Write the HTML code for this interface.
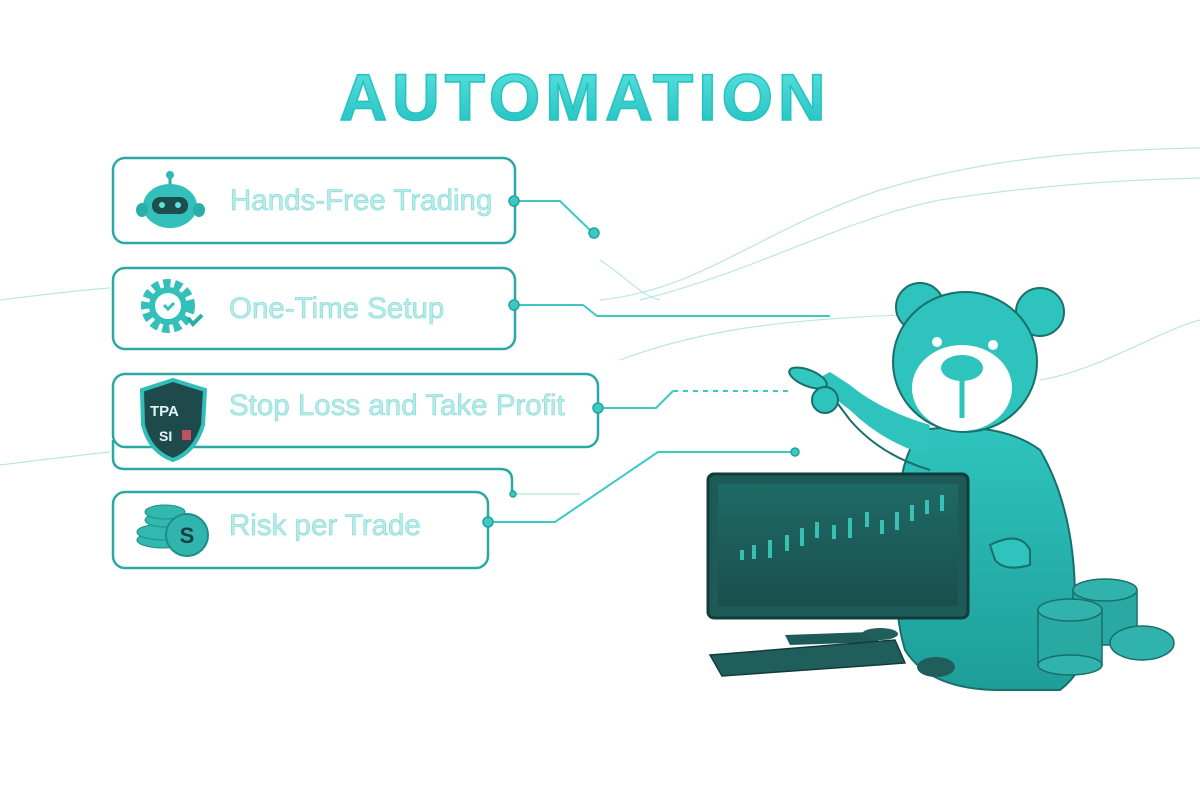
<!DOCTYPE html>
<html><head><meta charset="utf-8"><style>
html,body{margin:0;padding:0;background:#fff;}
svg{display:block}
text{font-family:"Liberation Sans",sans-serif}
</style></head><body>
<svg width="1200" height="800" viewBox="0 0 1200 800" xmlns="http://www.w3.org/2000/svg">
<defs>
<linearGradient id="tg" x1="0" y1="0" x2="0" y2="1"><stop offset="0" stop-color="#5ee3e0"/><stop offset="1" stop-color="#1fbfbf"/></linearGradient>
<linearGradient id="bear" x1="0" y1="0" x2="0" y2="1"><stop offset="0" stop-color="#2ec4bd"/><stop offset="1" stop-color="#1e9e98"/></linearGradient>
<linearGradient id="scr" x1="0" y1="0" x2="0" y2="1"><stop offset="0" stop-color="#1f6a66"/><stop offset="1" stop-color="#194f4d"/></linearGradient>
</defs>
<g fill="none" stroke="#9fdcd8" stroke-width="1.2" opacity="0.7">
<path d="M600 300 C700 290 760 230 880 190 C980 160 1080 150 1200 148"/>
<path d="M640 300 C760 270 840 220 940 200 C1040 185 1120 180 1200 178"/>
<path d="M620 360 C700 330 780 320 900 315"/>
<path d="M0 300 C40 295 80 290 110 288"/>
<path d="M0 465 C40 460 80 455 110 452"/>
<path d="M1040 380 C1100 370 1160 330 1200 320"/>
<path d="M600 260 C630 280 640 295 660 300"/>
</g>
<text x="585" y="120" text-anchor="middle" font-size="66" font-weight="bold" fill="url(#tg)" stroke="#22c3c0" stroke-width="1.5" letter-spacing="5">AUTOMATION</text>
<g fill="none" stroke="#2aa9a4" stroke-width="2.5">
<rect x="113" y="158" width="402" height="85" rx="12"/>
<rect x="113" y="268" width="402" height="81" rx="12"/>
<rect x="113" y="374" width="485" height="73" rx="12"/>
<path d="M113 440 L113 458 Q113 469 125 469 L500 469 Q512 469 512 480 L512 492"/>
<rect x="113" y="492" width="375" height="76" rx="12"/>
</g>
<g fill="none" stroke="#3cc9c4" stroke-width="2">
<path d="M515 201 L560 201 L592 232"/>
<path d="M515 305 L583 305 L597 316 L830 316"/>
<path d="M598 408 L656 408 L673 391"/>
<path d="M673 391 L790 391" stroke-dasharray="5 5"/>
<path d="M488 522 L555 522 L658 452 L795 452"/>
<path d="M517 494 L580 494" stroke-width="1" stroke="#9fdcd8"/>
</g>
<g fill="#3cc9c4" stroke="#22a39e" stroke-width="1.5">
<circle cx="514" cy="201" r="5"/><circle cx="594" cy="233" r="5"/>
<circle cx="514" cy="305" r="5"/><circle cx="598" cy="408" r="5"/>
<circle cx="488" cy="522" r="5"/><circle cx="795" cy="452" r="4"/>
<circle cx="513" cy="494" r="3"/>
</g>
<g font-size="29.5" fill="#b6ecea" stroke="#7fd8d4" stroke-width="0.6">
<text x="230" y="210">Hands-Free Trading</text>
<text x="229" y="318">One-Time Setup</text>
<text x="229" y="415">Stop Loss and Take Profit</text>
<text x="229" y="535">Risk per Trade</text>
</g>
<g>
<line x1="170" y1="176" x2="170" y2="186" stroke="#2aaea8" stroke-width="3"/><circle cx="170" cy="175" r="4" fill="#2eb8b2"/>
<ellipse cx="170" cy="206" rx="27" ry="22" fill="#34c0ba"/>
<ellipse cx="142" cy="210" rx="6" ry="7" fill="#2aaea8"/><ellipse cx="199" cy="210" rx="6" ry="7" fill="#2aaea8"/>
<rect x="152" y="197" width="36" height="17" rx="8" fill="#1d4d4d"/>
<circle cx="162" cy="205" r="3" fill="#5ee3e0"/><circle cx="178" cy="205" r="3" fill="#5ee3e0"/>
<circle cx="168" cy="306" r="22" fill="none" stroke="#34c0ba" stroke-width="10" stroke-dasharray="7 4"/>
<circle cx="168" cy="306" r="16" fill="none" stroke="#34c0ba" stroke-width="6"/>
<circle cx="168" cy="306" r="10" fill="#fff"/>
<path d="M164 305 l4 4 l6 -6" stroke="#34c0ba" stroke-width="3" fill="none"/>
<path d="M188 318 l5 6 l9 -9" stroke="#2aaea8" stroke-width="4" fill="none"/>
<path d="M142 390 L173 380 L205 390 L203 425 Q195 452 173 460 Q150 452 143 425 Z" fill="#1e4a4c" stroke="#2fbfb8" stroke-width="4"/>
<text x="150" y="416" font-size="15" fill="#e0f5f4" font-weight="bold">TPA</text>
<text x="159" y="441" font-size="14" fill="#e0f5f4" font-weight="bold">SI</text>
<rect x="182" y="430" width="9" height="10" fill="#c05060"/>
<g fill="#33b8b0" stroke="#1e8d88" stroke-width="1">
<ellipse cx="163" cy="540" rx="26" ry="8"/><ellipse cx="163" cy="532" rx="26" ry="8"/><ellipse cx="165" cy="520" rx="20" ry="7"/><ellipse cx="165" cy="512" rx="20" ry="7"/>
</g>
<circle cx="187" cy="535" r="21" fill="#2fb5ae" stroke="#1e8d88" stroke-width="2"/>
<text x="187" y="543" text-anchor="middle" font-size="22" font-weight="bold" fill="#163f3f">S</text>
</g>
<g stroke="#1a6e6b" stroke-width="2">
<path d="M920 430 Q895 470 900 520 Q890 600 905 650 Q930 690 1000 690 L1060 690 Q1100 660 1075 600 Q1075 510 1040 450 Q1000 420 920 430 Z" fill="url(#bear)"/>
<path d="M925 455 Q880 440 850 410 L830 395 L815 380 L830 372 L850 385 Q880 410 930 425 Z" fill="#2ec4bd" stroke-width="0"/>
<path d="M930 470 Q880 455 850 420 L835 400" fill="none"/>
<ellipse cx="808" cy="378" rx="20" ry="8" transform="rotate(22 808 378)" fill="#32c8c0"/>
<circle cx="825" cy="400" r="13" fill="#2ec4bd"/>
<circle cx="920" cy="307" r="24" fill="#2ec4bd"/>
<circle cx="1040" cy="312" r="24" fill="#2ec4bd"/>
<ellipse cx="965" cy="362" rx="72" ry="70" fill="#2ec4bd"/>
<ellipse cx="962" cy="388" rx="50" ry="43" fill="#fff" stroke-width="0"/>
<path d="M990 545 Q1020 530 1030 550 L1030 565 Q1005 572 995 560 Z" fill="#2ec4bd"/>
</g>
<circle cx="937" cy="342" r="5" fill="#fff"/><circle cx="993" cy="345" r="5" fill="#fff"/>
<ellipse cx="962" cy="368" rx="21" ry="13" fill="#2ec4bd"/>
<line x1="962" y1="378" x2="962" y2="418" stroke="#2ec4bd" stroke-width="5"/>
<rect x="708" y="474" width="260" height="144" rx="6" fill="#1d5a58" stroke="#123c3b" stroke-width="3"/>
<rect x="718" y="484" width="240" height="122" fill="url(#scr)"/>
<g fill="#3fd9c9" opacity="0.8">
<rect x="740" y="550" width="4" height="10"/><rect x="752" y="545" width="4" height="14"/><rect x="768" y="540" width="4" height="18"/><rect x="785" y="535" width="4" height="16"/><rect x="800" y="528" width="4" height="18"/><rect x="815" y="522" width="4" height="16"/><rect x="832" y="525" width="4" height="14"/><rect x="848" y="518" width="4" height="20"/><rect x="865" y="512" width="4" height="15"/><rect x="880" y="520" width="4" height="14"/><rect x="895" y="512" width="4" height="18"/><rect x="910" y="505" width="4" height="16"/><rect x="925" y="500" width="4" height="14"/><rect x="940" y="495" width="4" height="16"/>
</g>
<path d="M785 635 L870 632 L880 642 L790 645 Z" fill="#1e5a58"/>
<path d="M710 655 L895 640 L905 663 L722 676 Z" fill="#1f5e5b" stroke="#123c3b" stroke-width="1.5"/>
<ellipse cx="936" cy="667" rx="19" ry="10" fill="#1f5e5b"/>
<ellipse cx="880" cy="634" rx="18" ry="6" fill="#1f5e5b"/>
<g fill="#2fb3ac" stroke="#1a6e6b" stroke-width="1.5">
<rect x="1073" y="590" width="64" height="55" fill="#2aa9a2"/><ellipse cx="1105" cy="590" rx="32" ry="11"/>
<rect x="1038" y="610" width="64" height="55" fill="#2aa9a2"/><ellipse cx="1070" cy="610" rx="32" ry="11"/><ellipse cx="1070" cy="665" rx="32" ry="10"/>
<ellipse cx="1142" cy="643" rx="32" ry="17"/>
</g>
</svg>
</body></html>
